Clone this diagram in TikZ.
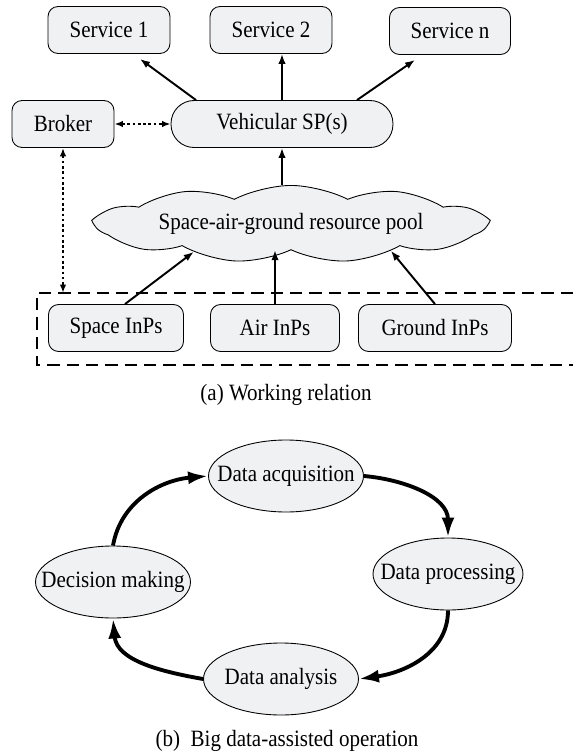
\documentclass[tikz,border=0pt]{standalone}
\usepackage{fontspec}
\setmainfont{Liberation Serif}[FakeStretch=0.9]
\usetikzlibrary{shapes.symbols,shapes.geometric,arrows.meta}
\definecolor{boxgray}{RGB}{240,241,243}

\begin{document}
\begin{tikzpicture}[x=0.02cm, y=-0.02cm, font=\fontsize{13.3}{15}\selectfont,
  box/.style={draw, line width=0.5pt, fill=boxgray, rounded corners=0.2cm, minimum height=0.94cm, inner sep=0pt},
  oval/.style={ellipse, draw, line width=0.5pt, fill=boxgray, minimum width=3.1cm, minimum height=1.44cm, inner sep=0pt},
  link/.style={-{Latex[length=0.2cm,width=0.15cm]}, line width=1.1pt},
  dots/.style={{Latex[length=0.17cm,width=0.13cm]}-{Latex[length=0.17cm,width=0.13cm]}, line width=1.1pt, dash pattern=on 1.5pt off 1.5pt},
  cyc/.style={-{Latex[length=0.4cm,width=0.26cm]}, line width=2.2pt}]
  \useasboundingbox (0,0) rectangle (573,754);

  % (a) working relation
  \node[box, minimum width=2.44cm] (s1) at (109,30) {Service 1};
  \node[box, minimum width=2.44cm] (s2) at (271,30) {Service 2};
  \node[box, minimum width=2.42cm] (sn) at (450,31) {Service n};
  \node[box, minimum width=2.04cm] (broker) at (63,124) {Broker};
  \node[box, minimum width=4.44cm, rounded corners=0.46cm] (vsp) at (282,124) {Vehicular SP(s)};
  \node[cloud, draw, fill=boxgray, line width=0.5pt, cloud puffs=11, cloud puff arc=55, aspect=7,
        minimum width=7.8cm, minimum height=1.3cm, inner sep=0pt] (pool) at (291,224) {Space-air-ground resource pool};
  \node[box, minimum width=2.7cm] (space) at (116,328) {Space InPs};
  \node[box, minimum width=2.58cm] (air) at (275,328) {Air InPs};
  \node[box, minimum width=3.06cm] (ground) at (435,328) {Ground InPs};

  \coordinate (fnw) at (37,293);
  \coordinate (fsw) at (37,365);
  \coordinate (fne) at (573,293);
  \coordinate (fse) at (573,365);
  \draw[line width=1.1pt, dash pattern=on 7pt off 4pt] (fne) -- (fnw) -- (fsw) -- (fse);

  \draw[link] ([xshift=-1.72cm]vsp.north) -- ([xshift=0.62cm,yshift=-0.1cm]s1.south);
  \draw[link] (vsp.north) -- (vsp.north |- s2.south);
  \draw[link] ([xshift=1.5cm]vsp.north) -- ([xshift=-0.7cm,yshift=-0.1cm]sn.south);
  \draw[dots] (broker.east) -- (vsp.west);
  \draw[dots] (broker.south) -- (broker.south |- fnw);
  \draw[link] (vsp.south |- pool.north) -- (vsp.south);
  \draw[link] ([xshift=0.18cm]space.north) -- (pool.196);
  \draw[link] (air.north) -- (air.north |- pool.south);
  \draw[link] (ground.north) -- (pool.345);

  \node (capa) at (286,395) {(a) Working relation};

  % (b) big data-assisted operation
  \node[oval] (acq) at (286,476) {\makebox[0pt]{Data acquisition}};
  \node[oval, minimum width=3.0cm] (proc) at (448,574) {\makebox[0pt]{Data processing}};
  \node[oval] (dec) at (113,582) {\makebox[0pt]{Decision making}};
  \node[oval] (ana) at (281,679) {\makebox[0pt]{Data analysis}};

  \draw[cyc] (dec.north) to[out=80,in=185] (acq.west);
  \draw[cyc] (acq.east) to[out=-5,in=90] (proc.north);
  \draw[cyc] (proc.south) to[out=-90,in=8] (ana.east);
  \draw[cyc] (ana.west) to[out=170,in=-85] (dec.south);

  \node (capb) at (287,741) {(b)\ \ Big data-assisted operation};
\end{tikzpicture}
\end{document}
